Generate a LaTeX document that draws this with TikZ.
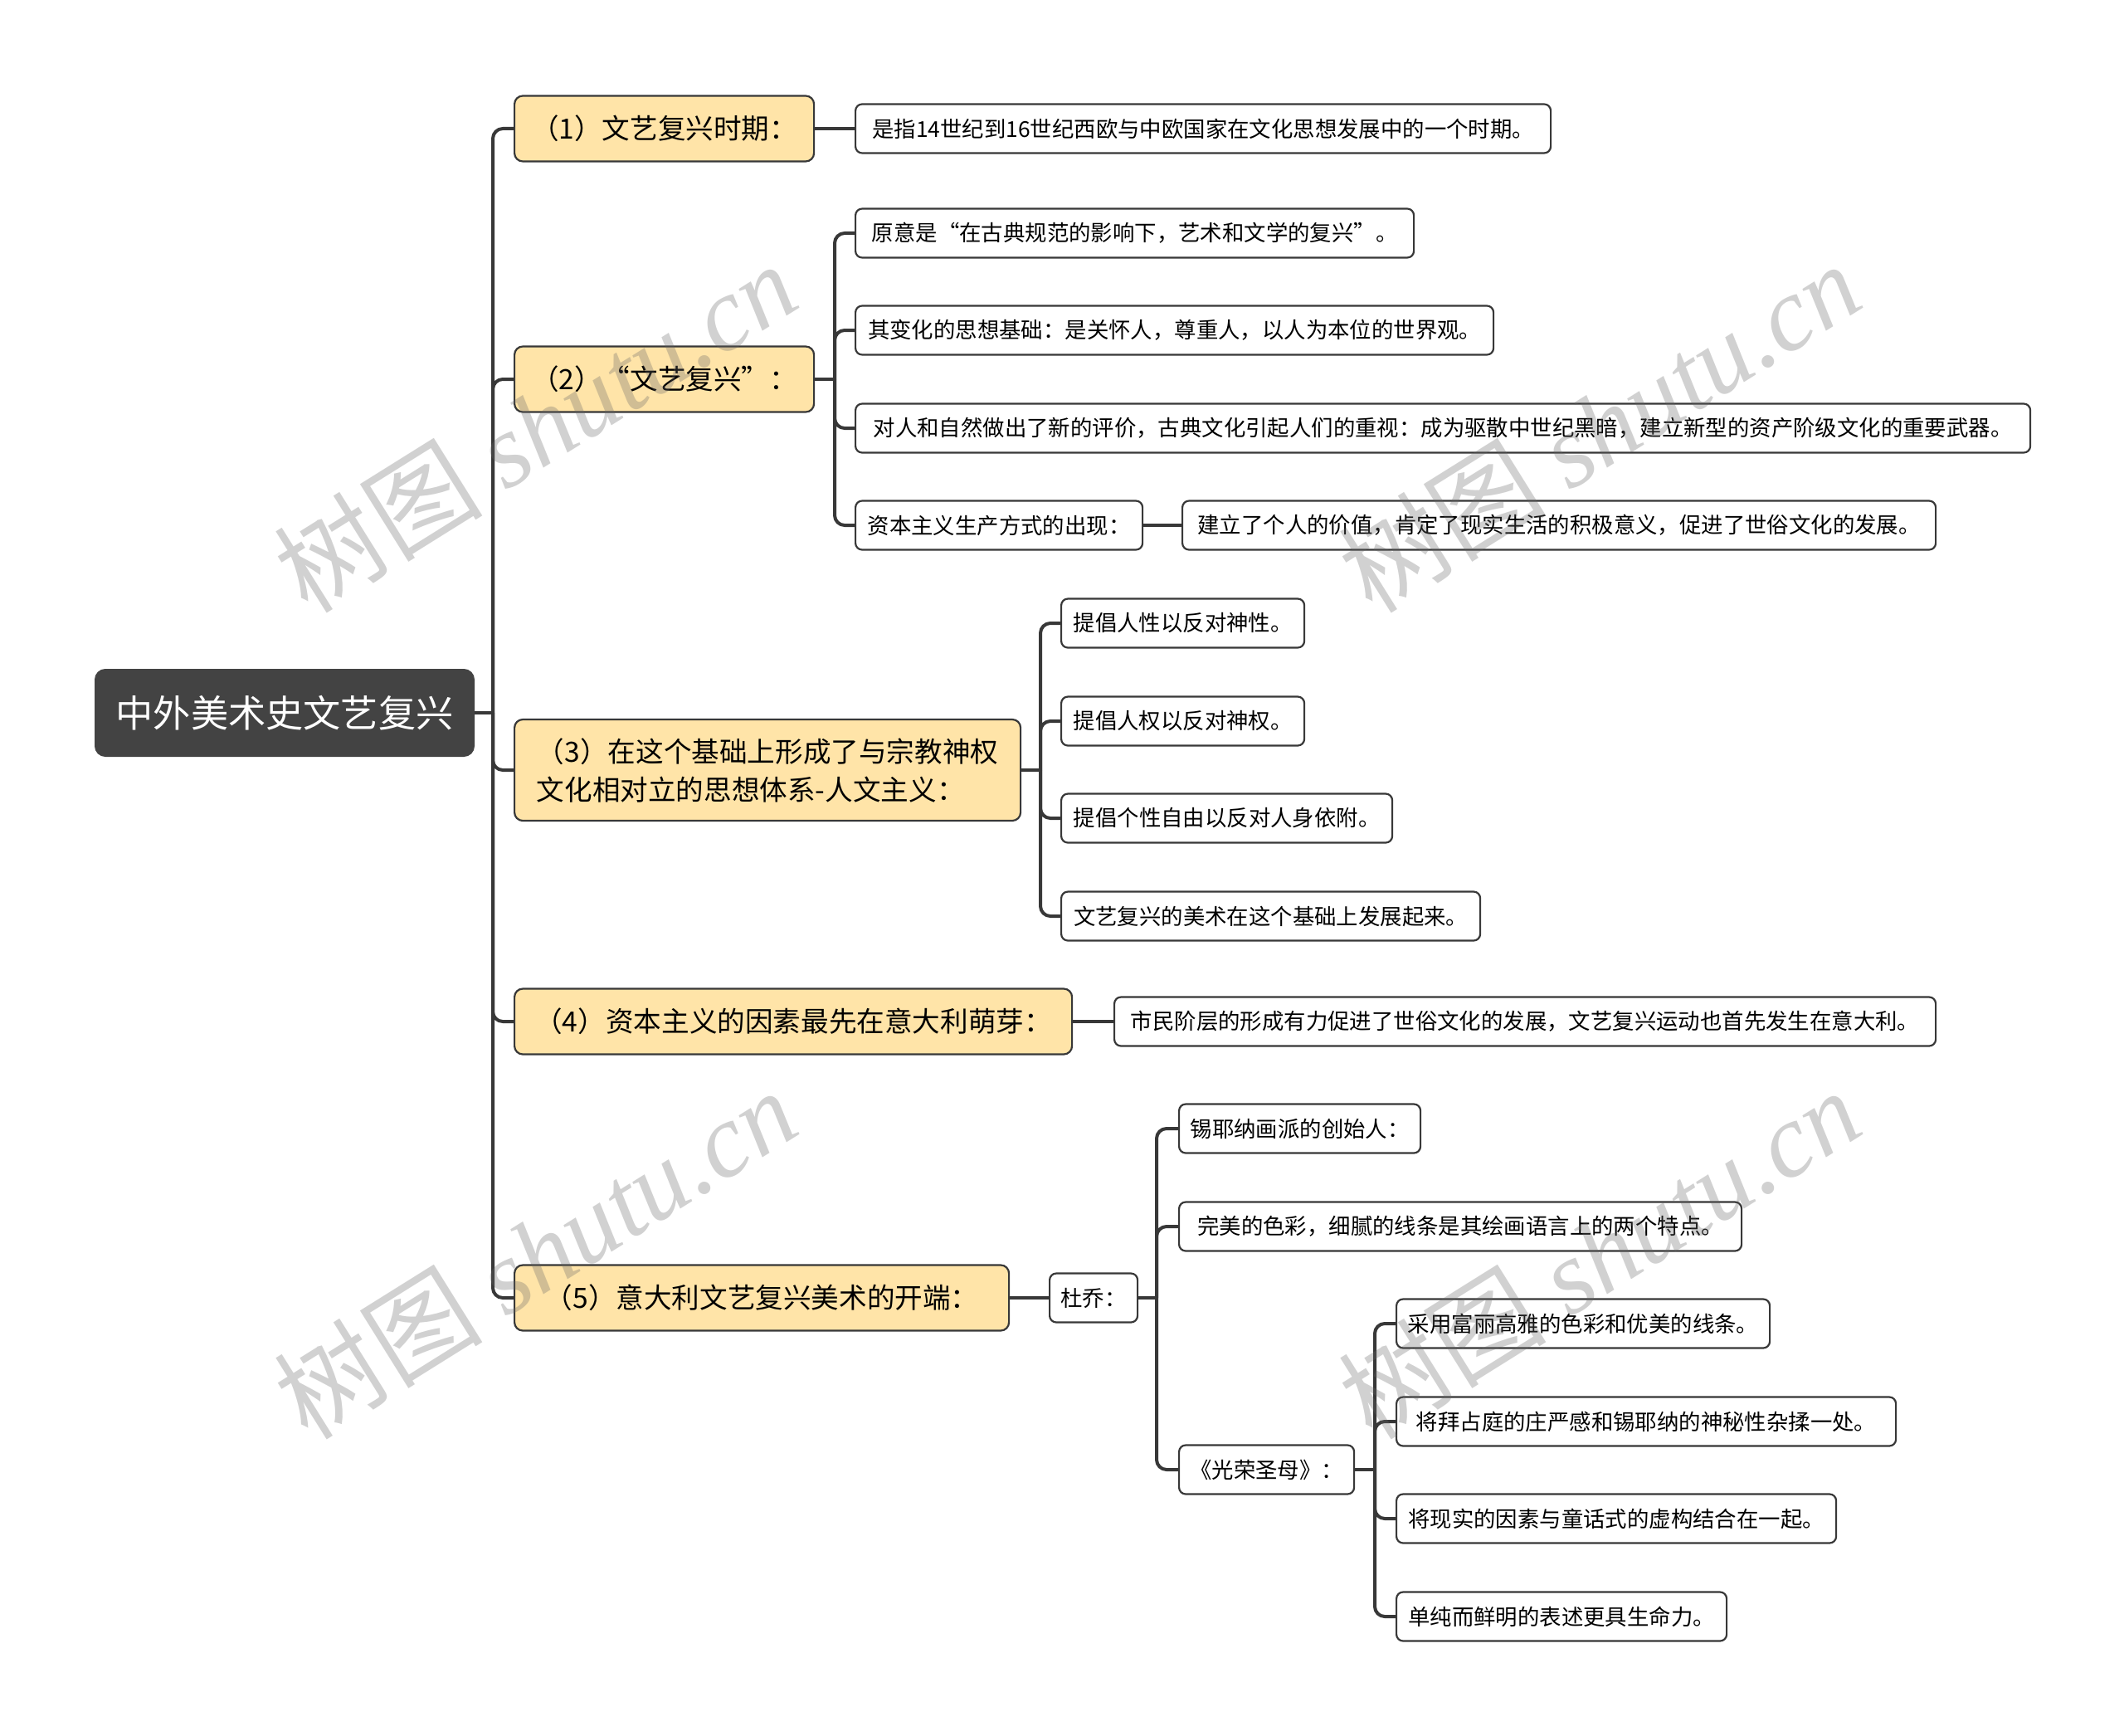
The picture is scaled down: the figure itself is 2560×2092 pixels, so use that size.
\documentclass[tikz,border=0pt]{standalone}
\usepackage{fontspec}
\setmainfont{Noto Sans CJK SC}
\newfontfamily\wmserif{Liberation Serif}
\newfontfamily\wmcjk{Noto Sans CJK SC}
\definecolor{linec}{HTML}{383838}
\definecolor{rootc}{HTML}{434343}
\definecolor{topicc}{HTML}{FFE4A8}
\tikzset{
  rootbox/.style={draw=rootc, fill=rootc, text=white, rounded corners=6pt, line width=1pt,
    font=\fontsize{22.6pt}{27pt}\selectfont, anchor=west, inner sep=0pt},
  topicbox/.style={draw=linec, fill=topicc, rounded corners=5pt, line width=1.1pt,
    font=\fontsize{16.8pt}{23pt}\selectfont, anchor=west, inner sep=0pt, minimum height=39.5pt},
  leafbox/.style={draw=linec, fill=white, rounded corners=4pt, line width=1.1pt,
    font=\fontsize{13.2pt}{16pt}\selectfont, anchor=west, inner sep=0pt, minimum height=29.5pt},
  conn/.style={draw=linec, line width=2pt, rounded corners=6pt},
  wmark/.style={text=black!60, text opacity=0.3, rotate=32, inner sep=0pt}
}
\begin{document}
\begin{tikzpicture}[x=0.5pt, y=-0.5pt]
\useasboundingbox (0,0) rectangle (2560,2092);

% root
\node[rootbox, minimum width=228pt, minimum height=52pt] (root) at (114,859) {中外美术史文艺复兴};

% level 1
\node[topicbox, minimum width=180.5pt] (n1) at (619,155) {（1）文艺复兴时期：};
\node[topicbox, minimum width=180.5pt] (n2) at (619,457) {（2）“文艺复兴”：};
\node[topicbox, minimum width=305pt, minimum height=61pt, align=left] (n3) at (619,928) {（3）在这个基础上形成了与宗教神权\\文化相对立的思想体系-人文主义：};
\node[topicbox, minimum width=336pt] (n4) at (619,1231) {（4）资本主义的因素最先在意大利萌芽：};
\node[topicbox, minimum width=298pt] (n5) at (619,1564) {（5）意大利文艺复兴美术的开端：};

% leaves
\node[leafbox, minimum width=419pt] (c1) at (1030,155) {是指14世纪到16世纪西欧与中欧国家在文化思想发展中的一个时期。};

\node[leafbox, minimum width=336.5pt] (c2a) at (1030,281) {原意是“在古典规范的影响下，艺术和文学的复兴”。};
\node[leafbox, minimum width=384.5pt] (c2b) at (1030,398) {其变化的思想基础：是关怀人，尊重人，以人为本位的世界观。};
\node[leafbox, minimum width=708pt] (c2c) at (1030,516) {对人和自然做出了新的评价，古典文化引起人们的重视：成为驱散中世纪黑暗，建立新型的资产阶级文化的重要武器。};
\node[leafbox, minimum width=173pt] (c2d) at (1030,633) {资本主义生产方式的出现：};
\node[leafbox, minimum width=454pt] (c2d1) at (1424,633) {建立了个人的价值，肯定了现实生活的积极意义，促进了世俗文化的发展。};

\node[leafbox, minimum width=146.5pt] (c3a) at (1278,751) {提倡人性以反对神性。};
\node[leafbox, minimum width=146.5pt] (c3b) at (1278,869) {提倡人权以反对神权。};
\node[leafbox, minimum width=199.5pt] (c3c) at (1278,986) {提倡个性自由以反对人身依附。};
\node[leafbox, minimum width=252.5pt] (c3d) at (1278,1104) {文艺复兴的美术在这个基础上发展起来。};

\node[leafbox, minimum width=495pt] (c4) at (1342,1231) {市民阶层的形成有力促进了世俗文化的发展，文艺复兴运动也首先发生在意大利。};

\node[leafbox, minimum width=53pt] (c5) at (1264,1564) {杜乔：};
\node[leafbox, minimum width=145.5pt] (c5a) at (1420,1360) {锡耶纳画派的创始人：};
\node[leafbox, minimum width=339pt] (c5b) at (1420,1478) {完美的色彩，细腻的线条是其绘画语言上的两个特点。};
\node[leafbox, minimum width=105.5pt] (c5c) at (1420,1771) {《光荣圣母》：};
\node[leafbox, minimum width=225pt] (c5c1) at (1682,1595) {采用富丽高雅的色彩和优美的线条。};
\node[leafbox, minimum width=301pt] (c5c2) at (1682,1713) {将拜占庭的庄严感和锡耶纳的神秘性杂揉一处。};
\node[leafbox, minimum width=265pt] (c5c3) at (1682,1830) {将现实的因素与童话式的虚构结合在一起。};
\node[leafbox, minimum width=199pt] (c5c4) at (1682,1948) {单纯而鲜明的表述更具生命力。};

% trunk coordinates
\coordinate (t0) at (594,859);
\coordinate (t2) at (1006,457);
\coordinate (t3) at (1254,928);
\coordinate (t5) at (1394,1564);
\coordinate (t5c) at (1657,1771);

% connectors
\draw[conn] (root.east) -- (t0);
\foreach \k in {n1,n2,n3,n4,n5} {\draw[conn] (t0) |- (\k.west);}

\draw[conn] (n1.east) -- (c1.west);

\draw[conn] (n2.east) -- (t2);
\foreach \k in {c2a,c2b,c2c,c2d} {\draw[conn] (t2) |- (\k.west);}
\draw[conn] (c2d.east) -- (c2d1.west);

\draw[conn] (n3.east) -- (t3);
\foreach \k in {c3a,c3b,c3c,c3d} {\draw[conn] (t3) |- (\k.west);}

\draw[conn] (n4.east) -- (c4.west);

\draw[conn] (n5.east) -- (c5.west);
\draw[conn] (c5.east) -- (t5);
\foreach \k in {c5a,c5b,c5c} {\draw[conn] (t5) |- (\k.west);}
\draw[conn] (c5c.east) -- (t5c);
\foreach \k in {c5c1,c5c2,c5c3,c5c4} {\draw[conn] (t5c) |- (\k.west);}

% watermarks
\foreach \wx/\wy [count=\i] in {645/514, 1927/514, 645/1510, 1927/1510} {
  \node[wmark] (wm\i) at (\wx,\wy) {\fontsize{63pt}{70pt}\selectfont\wmcjk 树图\ \wmserif\itshape shutu.cn};
}
\end{tikzpicture}
\end{document}
